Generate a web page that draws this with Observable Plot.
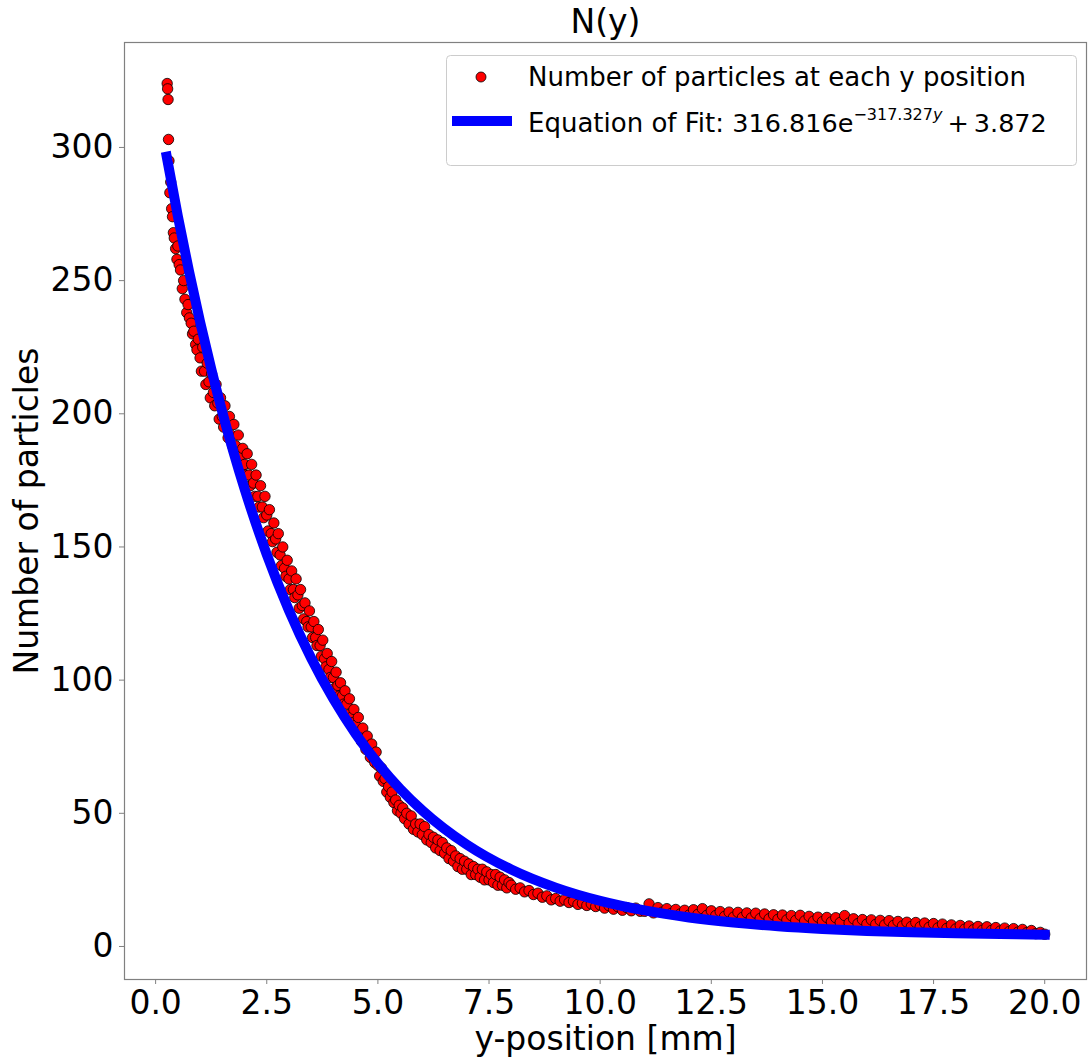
<!DOCTYPE html>
<html>
<head>
<meta charset="utf-8">
<script src="https://cdn.jsdelivr.net/npm/d3@7"></script>
<script src="https://cdn.jsdelivr.net/npm/@observablehq/plot@0.6"></script>
<style>
  body { margin: 0; background: #fff; font-family: "DejaVu Sans", sans-serif; }
  #wrap { position: relative; width: 1088px; height: 1061px; }
  #legend { position: absolute; left: 0; top: 0; pointer-events: none; }
</style>
</head>
<body>
<div id="wrap"></div>
<script>
// ---- data ----
const xPos = [
  0.26,0.27,0.28,0.29,0.30,0.32,0.34,0.36,0.38,0.40,0.42,0.45,0.48,0.50,0.53,0.56,0.60,0.63,0.66,0.70,0.73,0.76,0.80,0.83,0.86,0.90,0.93,0.96,
  1.00,1.03,1.06,1.10,1.13,1.16,1.20,1.23,1.26,1.30,1.33,1.36,1.40,1.43,1.46,1.50,1.53,1.56,1.60,1.63,1.66,1.70,1.73,1.76,1.80,1.83,1.86,1.90,1.93,1.96,
  2.00,2.03,2.06,2.10,2.13,2.16,2.20,2.23,2.26,2.30,2.33,2.36,2.40,2.43,2.46,2.50,2.53,2.56,2.60,2.63,2.66,2.70,2.73,2.76,2.80,2.83,2.86,2.90,2.93,2.96,
  3.00,3.03,3.06,3.10,3.13,3.16,3.20,3.23,3.26,3.30,3.33,3.36,3.40,3.43,3.46,3.50,3.53,3.56,3.60,3.63,3.66,3.70,3.73,3.76,3.80,3.83,3.86,3.90,3.93,3.96,
  4.00,4.03,4.06,4.10,4.13,4.16,4.20,4.23,4.26,4.30,4.33,4.36,4.40,4.43,4.46,4.50,4.53,4.56,4.60,4.63,4.66,4.70,4.73,4.76,4.80,4.83,4.86,4.90,4.93,4.96,
  5.00,5.04,5.08,5.12,5.16,5.20,5.24,5.28,5.32,5.36,5.40,5.44,5.48,5.52,5.56,5.60,
  5.65,5.70,5.75,5.80,5.85,5.90,5.95,6.00,6.05,6.10,6.15,6.20,6.25,6.30,6.35,6.40,6.45,6.50,6.55,6.60,6.65,6.70,6.75,6.80,6.85,6.90,6.95,
  7.00,7.05,7.10,7.15,7.20,7.25,7.30,7.35,7.40,7.45,7.50,7.55,7.60,7.65,7.70,7.75,7.80,7.85,7.90,7.95,
  8.0,8.1,8.2,8.3,8.4,8.5,8.6,8.7,8.8,8.9,
  9.0,9.1,9.2,9.3,9.4,9.5,9.6,9.7,9.8,9.9,
  10.0,10.1,10.2,10.3,10.4,10.5,10.6,10.7,10.8,10.9,
  11.0,11.1,11.2,11.3,11.4,11.5,11.6,11.7,11.8,11.9,
  12.0,12.1,12.2,12.3,12.4,12.5,12.6,12.7,12.8,12.9,
  13.0,13.1,13.2,13.3,13.4,13.5,13.6,13.7,13.8,13.9,
  14.0,14.1,14.2,14.3,14.4,14.5,14.6,14.7,14.8,14.9,
  15.0,15.1,15.2,15.3,15.4,15.5,15.6,15.7,15.8,15.9,
  16.0,16.1,16.2,16.3,16.4,16.5,16.6,16.7,16.8,16.9,
  17.0,17.1,17.2,17.3,17.4,17.5,17.6,17.7,17.8,17.9,
  18.0,18.1,18.2,18.3,18.4,18.5,18.6,18.7,18.8,18.9,
  19.0,19.1,19.2,19.3,19.4,19.5,19.6,19.7,19.8,19.9,
  20.0
];
const counts = [
  324,322,318,303,295,283,287,277,274,268,266,262,258,263,256,254,247,250,243,238,241,236,234,230,231,226,224,228,
  221,216,225,216,211,219,212,206,215,208,203,211,204,198,206,199,195,203,196,191,199,192,188,196,188,184,192,184,180,187,
  181,177,185,177,173,181,174,169,177,169,165,173,165,161,169,162,156,164,155,152,159,153,148,155,147,143,150,142,139,145,
  138,134,141,134,131,138,132,127,134,128,123,129,122,120,126,120,116,122,116,113,119,113,109,115,108,105,110,104,101,107,
  101,97,103,98,94,99,94,91,96,91,87,93,86,84,89,83,80,86,80,77,82,77,74,79,74,71,76,71,69,73,
  68,64,67,62,63,58,60,56,58,54,55,51,53,50,52,48,
  50,46,49,44,46,43,46,42,45,40,42,39,41,37,40,36,39,35,37,33,36,32,34,30,33,29,32,
  29,31,27,30,27,29,26,29,25,28,25,27,24,27,23,26,23,25,22,24,
  23,21.5,22,20.5,21,19.5,20,18.5,19,17.5,
  18,17,17.5,16.5,17,15.8,16.3,15.4,16,15,
  15.6,14.4,15.3,14.0,14.9,13.6,14.6,13.4,14.4,13.2,
  13.2,16.0,12.6,14.6,12.9,14.2,12.4,13.9,12.2,13.6,
  11.8,13.8,12.1,14.2,11.7,13.4,11.6,13.1,11.3,12.9,
  11.0,12.8,10.9,12.6,10.7,12.5,10.5,12.2,10.4,11.9,
  10.2,11.8,10.0,11.6,9.8,11.7,9.6,11.3,9.5,11.0,
  9.3,10.9,9.2,10.8,9.0,11.6,8.8,10.4,8.6,10.1,
  8.4,10.0,8.3,9.8,8.1,9.7,7.9,9.4,7.7,9.1,
  7.5,9.0,7.4,8.8,7.2,8.6,7.0,8.4,6.8,8.1,
  6.6,7.9,6.5,7.7,6.3,7.5,6.1,7.4,6.0,7.1,
  5.8,6.9,5.6,6.7,5.4,6.4,5.2,6.0,4.8,5.3,
  4.6
];
// fitted curve values (as drawn in the reference)
const fitX = [0.25,0.5,0.75,1,1.25,1.5,1.75,2,2.5,3,3.5,4,4.5,5,5.5,6,7,8,9,10,11,12,13,14,15,16,17,18,19,20];
const fitY = [296.53,274.21,253.59,234.55,216.94,200.70,185.69,171.83,147.18,126.16,108.22,92.91,79.84,68.70,59.19,51.07,38.24,28.89,22.09,17.13,13.53,10.90,8.99,7.60,6.59,5.85,5.31,4.92,4.64,4.43];
const xTicks = [0, 2.5, 5, 7.5, 10, 12.5, 15, 17.5, 20];
const yTicks = [0, 50, 100, 150, 200, 250, 300];
const titleText = "N(y)";
const xLabel = "y-position [mm]";
const yLabel = "Number of particles";
const legendScatter = "Number of particles at each y position";

const points = xPos.map((x, i) => ({x, y: counts[i]}));
const fit = fitX.map((x, i) => ({x, y: fitY[i]}));

const chart = Plot.plot({
  width: 1088,
  height: 1061,
  marginLeft: 124,
  marginRight: 2,
  marginTop: 42,
  marginBottom: 82,
  style: {fontFamily: "DejaVu Sans", fontSize: "33px", background: "white", color: "black"},
  x: {domain: [-0.7, 20.94]},
  y: {domain: [-12.4, 339.4]},
  marks: [
    Plot.axisX({ticks: xTicks, tickSize: 5, tickPadding: 6, tickFormat: d3.format(".1f"), stroke: "#808080", fill: "black", label: null}),
    Plot.axisY({ticks: yTicks, tickSize: 5, tickPadding: 6, stroke: "#808080", fill: "black", label: null}),
    Plot.dot(points, {x: "x", y: "y", r: 5.2, fill: "red", stroke: "black", strokeWidth: 0.8}),
    Plot.line(fit, {x: "x", y: "y", stroke: "blue", strokeWidth: 10, curve: "monotone-x", strokeLinecap: "square"}),
    Plot.frame({stroke: "#808080", strokeWidth: 1.2}),
    Plot.text([titleText], {text: d => d, frameAnchor: "top", dy: -20, lineAnchor: "middle", fontSize: 33}),
    Plot.text([yLabel], {text: d => d, frameAnchor: "left", dx: -97, rotate: -90, lineAnchor: "middle", textAnchor: "middle", fontSize: 33}),
    Plot.text([xLabel], {text: d => d, frameAnchor: "bottom", dy: 60, lineAnchor: "middle", fontSize: 33})
  ]
});

const wrap = document.getElementById("wrap");
wrap.appendChild(chart);

// legend drawn inside the axes, upper right
const ns = "http://www.w3.org/2000/svg";
const leg = document.createElementNS(ns, "svg");
leg.setAttribute("id", "legend");
leg.setAttribute("width", 1088);
leg.setAttribute("height", 1061);
leg.innerHTML = `
  <rect x="446.5" y="55.5" width="630" height="110" rx="4" fill="white" fill-opacity="0.8" stroke="#cccccc" stroke-width="1"/>
  <circle cx="481" cy="77" r="5" fill="red" stroke="black" stroke-width="0.8"/>
  <text x="528" y="86" font-family="DejaVu Sans" font-size="26" fill="black">${legendScatter}</text>
  <line x1="452" x2="512" y1="121" y2="121" stroke="blue" stroke-width="10"/>
  <text x="528" y="132" font-family="DejaVu Sans" font-size="26" fill="black">Equation of Fit: <tspan font-size="25.5">316.816e</tspan><tspan dy="-12" font-size="16">−317.327</tspan><tspan font-size="16" font-style="italic">y</tspan><tspan dy="12" dx="5" font-size="25.5">+</tspan><tspan dx="5" font-size="25.5">3.872</tspan></text>
`;
wrap.appendChild(leg);
</script>
</body>
</html>
